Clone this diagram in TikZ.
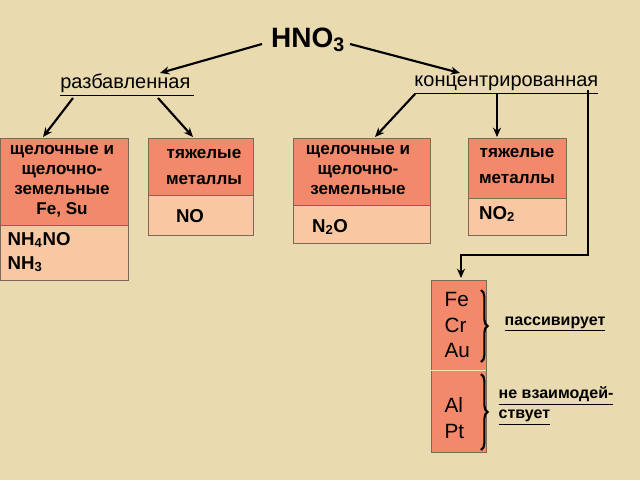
\documentclass[tikz,border=0pt]{standalone}
\usepackage{fontspec}
\setmainfont{Liberation Sans}
\usetikzlibrary{arrows.meta,decorations.pathreplacing}
\definecolor{bg}{HTML}{E9DAB0}
\definecolor{dk}{HTML}{F2896A}
\definecolor{lt}{HTML}{F9C8A2}
\definecolor{ed}{HTML}{7A6A5A}
\begin{document}
\begin{tikzpicture}[x=0.75pt,y=-0.75pt,
  arr/.style={-{Stealth[length=7pt,width=6pt]},line width=1.6pt,black},
  dkb/.style={fill=dk,draw=ed,line width=0.6pt},
  ltb/.style={fill=lt,draw=ed,line width=0.6pt},
  bt/.style={font=\bfseries\fontsize{12.8}{15}\selectfont,align=center},
  ft/.style={font=\bfseries\fontsize{14}{17}\selectfont,align=left},
  lab/.style={font=\fontsize{15}{18}\selectfont}]
\fill[bg] (0,0) rectangle (640,480);
\useasboundingbox (0,0) rectangle (640,480);
\node[font=\bfseries\fontsize{21}{24}\selectfont] (h) at (308,40) {HNO$_{\mathbf 3}$};
\node[lab] (r) at (127,85) {\underline{разбавленная\,}};
\node[lab,anchor=east] (k) at (603,85) {\underline{концентрированная}};
% boxes
\draw[dkb] (0,138) rectangle (128,225);
\draw[ltb] (0,225) rectangle (128,280);
\draw[dkb] (148,138) rectangle (253,195);
\draw[ltb] (148,195) rectangle (253,235);
\draw[dkb] (293,138) rectangle (430,205);
\draw[ltb] (293,205) rectangle (430,243);
\draw[dkb] (468,138) rectangle (566,198);
\draw[ltb] (468,198) rectangle (566,235);
\draw[dkb] (431,280) rectangle (486,452);
\draw[draw=lt!60!white,line width=0.6pt] (431,370) -- (486,370);
\node[bt] (b1) at (62,181) {щелочные и\\щелочно-\\земельные\\Fe, Su};
\node[ft,anchor=west] (b1l) at (3,252) {NH\textsubscript{4}NO\\[1pt]NH\textsubscript{3}};
\node[bt] (b2) at (204,167) {тяжелые\\[5pt]металлы};
\node[ft] (b2l) at (190,216) {NO};
\node[bt] (b3) at (358,170) {щелочные и\\щелочно-\\земельные};
\node[ft] (b3l) at (330,227) {N\textsubscript{2}O};
\node[bt] (b4) at (517,166) {тяжелые\\[5pt]металлы};
\node[ft] (b4l) at (497,214) {NO\textsubscript{2}};
\node[font=\fontsize{15.5}{19}\selectfont,align=left,anchor=west] (m1) at (440,325) {Fe\\Cr\\Au};
\node[font=\fontsize{15.5}{19}\selectfont,align=left,anchor=west] (m2) at (440,418) {Al\\Pt};
\draw[decorate,decoration={brace,amplitude=5pt},line width=1.6pt] (481,290) -- (481,362);
\draw[decorate,decoration={brace,amplitude=5pt},line width=1.6pt] (481,374) -- (481,450);
\node[font=\bfseries\fontsize{12}{14}\selectfont,anchor=west] (p) at (500,324) {\underline{пассивирует}};
\node[font=\bfseries\fontsize{12}{15}\selectfont,align=left,anchor=west] (n) at (494,406) {\underline{не взаимодей-}\\\underline{ствует}};
% arrows
\draw[arr] (262,44) -- (160,73);
\draw[arr] (350,44) -- (460,73);
\draw[arr] (73,98) -- (43,137);
\draw[arr] (158,98) -- (193,137);
\draw[arr] (415,94) -- (375,137);
\draw[arr] (497,94) -- (497,137);
\coordinate (c1) at (588,90);
\coordinate (c2) at (588,255);
\coordinate (c3) at (461,255);
\draw[arr] (c1) -- (c2) -- (c3) -- (461,278);
\end{tikzpicture}
\end{document}
